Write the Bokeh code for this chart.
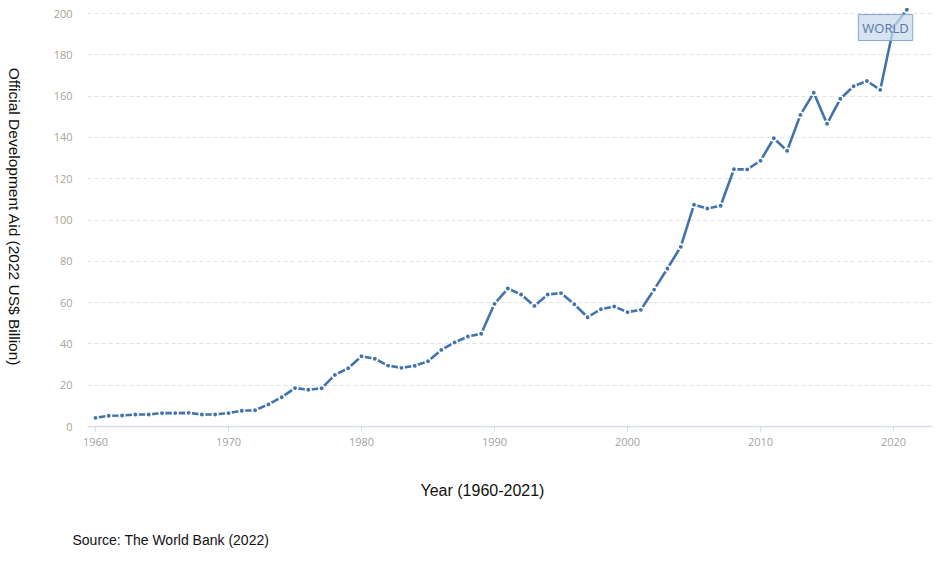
import math
from bokeh.plotting import figure
from bokeh.layouts import row
from bokeh.models import Range1d, Label, FixedTicker, ColumnDataSource, Title
from bokeh.embed import file_html
from bokeh.resources import INLINE

years = list(range(1960, 2022))
oda = [4.2, 5.2, 5.3, 5.8, 5.8, 6.5, 6.5, 6.6, 5.8, 5.8,
       6.5, 7.6, 7.9, 10.7, 14.2, 18.6, 17.8, 18.5, 25.0, 28.2,
       34.0, 32.8, 29.5, 28.4, 29.4, 31.6, 37.1, 40.7, 43.6, 44.9,
       59.4, 66.8, 63.9, 58.4, 63.9, 64.6, 59.2, 52.9, 56.8, 58.1,
       55.4, 56.5, 66.3, 76.5, 87.0, 107.4, 105.6, 106.9, 124.6, 124.5,
       128.7, 139.6, 133.5, 150.9, 161.6, 146.6, 158.7, 164.8, 167.3, 163.0,
       193.3, 201.8]
x_ticks = [1960, 1970, 1980, 1990, 2000, 2010, 2020]
y_ticks = [0, 20, 40, 60, 80, 100, 120, 140, 160, 180, 200]
series_name = "WORLD"
y_title = "Official Development Aid (2022 US$ Billion)"
x_title = "Year (1960-2021)"
source_note = "Source: The World Bank (2022)"

LINE = "#4273ab"
LEFT_W = 30
H = 560

# narrow strip holding the vertical (top-to-bottom) y title
t = figure(width=LEFT_W, height=H, output_backend="svg", toolbar_location=None,
           x_range=Range1d(0, LEFT_W), y_range=Range1d(0, H),
           min_border=0, x_axis_type=None, y_axis_type=None)
t.outline_line_color = None
t.grid.visible = False
t.add_layout(Label(x=14, y=278, text=y_title, angle=-math.pi / 2,
                   text_font="Liberation Sans", text_font_size="15.5px",
                   text_color="#111111", text_align="center", text_baseline="middle"))

p = figure(width=934 - LEFT_W, height=H, output_backend="svg", toolbar_location=None,
           x_range=Range1d(1959.4, 2022.93), y_range=Range1d(0, 204.36),
           min_border_left=87 - LEFT_W, min_border_right=2, min_border_top=4,
           min_border_bottom=H - 426)
p.outline_line_color = None
p.background_fill_color = "white"
p.border_fill_color = "white"

src = ColumnDataSource(dict(x=years, y=oda))
p.line("x", "y", source=src, line_color=LINE, line_width=2.6)
p.scatter("x", "y", source=src, size=5.5, fill_color=LINE, line_color="white", line_width=1.6)

# axes
p.xaxis.ticker = FixedTicker(ticks=x_ticks)
p.xaxis.axis_line_color = "#d8dee9"
p.xaxis.axis_line_width = 1.5
p.xaxis.major_tick_line_color = "#d8dee9"
p.xaxis.major_tick_out = 5
p.xaxis.major_tick_in = 0
p.xaxis.minor_tick_line_color = None
p.xaxis.major_label_text_color = "#a3a3a3"
p.xaxis.major_label_text_font = "Open Sans"
p.xaxis.major_label_text_font_size = "11px"
p.xaxis.major_label_standoff = 6

p.yaxis.ticker = FixedTicker(ticks=y_ticks)
p.yaxis.axis_line_color = None
p.yaxis.major_tick_line_color = None
p.yaxis.minor_tick_line_color = None
p.yaxis.major_label_text_color = "#aca396"
p.yaxis.major_label_text_font = "Open Sans"
p.yaxis.major_label_text_font_size = "11px"
p.yaxis.major_label_standoff = 9

p.xgrid.grid_line_color = None
p.ygrid.grid_line_color = "#e2e2e2"
p.ygrid.grid_line_dash = "4 3"
p.ygrid.grid_line_width = 1

# titles below the plot
p.add_layout(Title(text=x_title, align="left", offset=333, standoff=62,
                   text_font="Liberation Sans", text_font_size="16px",
                   text_font_style="normal", text_color="#111111"), "below")
p.add_layout(Title(text=source_note, align="left", offset=-15, standoff=0,
                   text_font="Liberation Sans", text_font_size="14px",
                   text_font_style="normal", text_color="#111111"), "below")

# series label
p.add_layout(Label(x=2019.4, y=193.2, text=series_name, text_font="Open Sans",
                   text_font_size="13px", text_color="#5579a8",
                   text_align="center", text_baseline="middle",
                   background_fill_color="#c9d9ec", background_fill_alpha=0.75,
                   border_line_color="#86a8d0", border_line_width=1,
                   padding=4))

layout = row(t, p, spacing=0)
open("out.html", "w").write(file_html(layout, INLINE))
